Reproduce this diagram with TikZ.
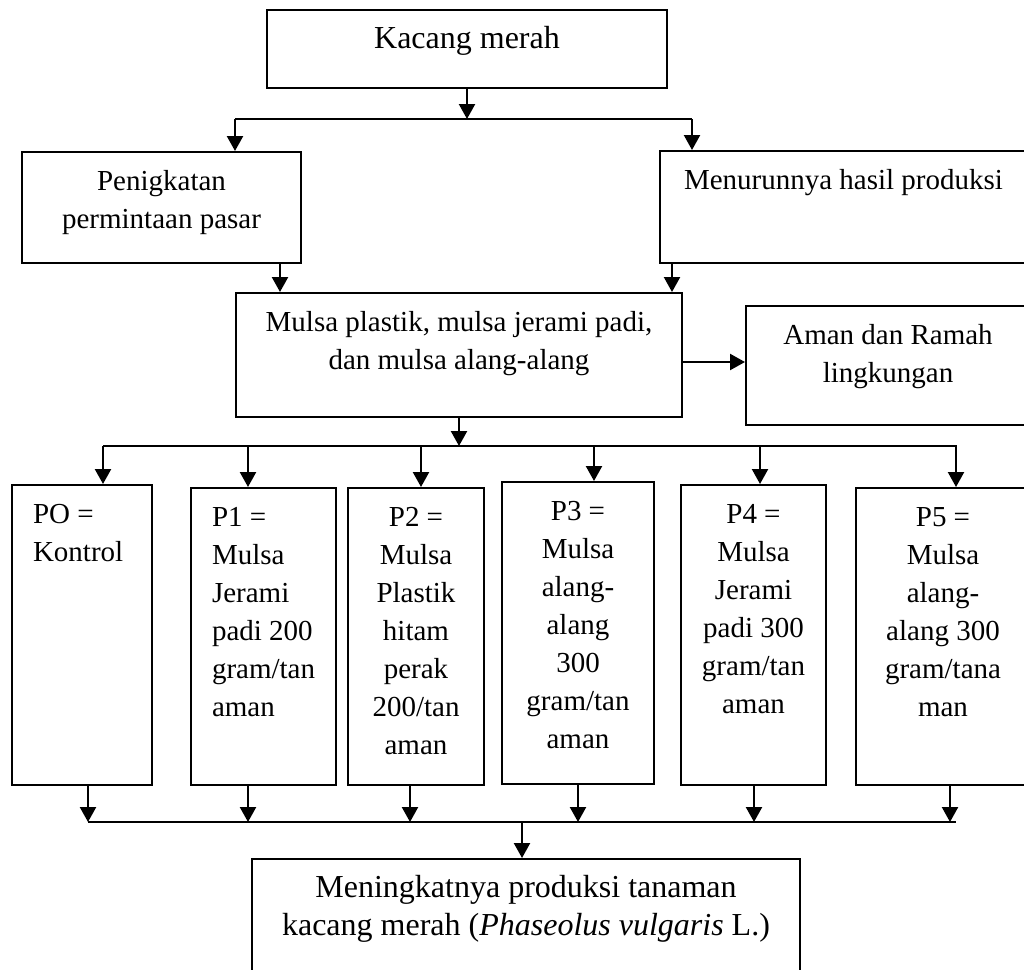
\documentclass[tikz,border=0pt]{standalone}
\usepackage{fontspec}
\setmainfont{Liberation Serif}
\usetikzlibrary{arrows.meta}
\newcommand{\cbox}[3]{\begin{minipage}[t][#2pt][t]{#1pt}\centering\rule{0pt}{38pt}#3\end{minipage}}
\newcommand{\lbox}[4]{\begin{minipage}[t][#2pt][t]{#1pt}\raggedright\leftskip=#3pt\rule{0pt}{38pt}#4\end{minipage}}
\tikzset{
  boxnode/.style={draw, line width=2pt, inner sep=0pt, anchor=north west, font=\fontsize{29}{38}\selectfont},
  bigtext/.style={font=\fontsize{32}{38}\selectfont},
  conn/.style={line width=2.3pt},
  arr/.style={line width=2.3pt, -{Triangle[width=16pt,length=15pt]}},
}
\begin{document}
\begin{tikzpicture}[x=1pt,y=-1pt]
\useasboundingbox (0,0) rectangle (1024,969);
\clip (0,0) rectangle (1024,969);
\fill[white] (0,0) rectangle (1024,969);
% boxes
\node[boxnode, bigtext] (top) at (266,9) {\cbox{400}{78}{Kacang merah}};
\node[boxnode] (pen) at (21,151) {\cbox{279}{111}{Penigkatan\\permintaan pasar}};
\node[boxnode] (men) at (659,150) {\lbox{375}{112}{24}{Menurunnya hasil produksi}};
\node[boxnode] (mul) at (235,292) {\cbox{446}{124}{Mulsa plastik, mulsa jerami padi,\\dan mulsa alang-alang}};
\node[boxnode] (aman) at (745,305) {\cbox{284}{119}{Aman dan Ramah\\lingkungan}};
\node[boxnode] (p0) at (11,484) {\lbox{140}{300}{21}{PO =\\Kontrol}};
\node[boxnode] (p1) at (190,487) {\lbox{145}{297}{21}{P1 =\\Mulsa\\Jerami\\padi 200\\gram/tan\\aman}};
\node[boxnode] (p2) at (347,487) {\cbox{136}{297}{P2 =\\Mulsa\\Plastik\\hitam\\perak\\200/tan\\aman}};
\node[boxnode] (p3) at (501,481) {\cbox{152}{302}{P3 =\\Mulsa\\alang-\\alang\\300\\gram/tan\\aman}};
\node[boxnode] (p4) at (680,484) {\cbox{145}{300}{P4 =\\Mulsa\\Jerami\\padi 300\\gram/tan\\aman}};
\node[boxnode] (p5) at (855,487) {\cbox{174}{297}{P5 =\\Mulsa\\alang-\\alang 300\\gram/tana\\man}};
\node[boxnode, bigtext] (fin) at (251,858) {\cbox{548}{140}{Meningkatnya produksi tanaman\\kacang merah (\textit{Phaseolus vulgaris} L.)}};
% junction coordinates
\coordinate (h1l) at (235,119);
\coordinate (h1r) at (692,119);
\coordinate (xa) at (280,0);
\coordinate (xb) at (672,0);
\coordinate (ya) at (0,362);
\coordinate (h2l) at (103,446);
\coordinate (h2r) at (957,446);
\coordinate (q1) at (248,0);
\coordinate (q2) at (421,0);
\coordinate (q3) at (594,0);
\coordinate (q4) at (760,0);
\coordinate (q5) at (956,0);
\coordinate (h3l) at (88,822);
\coordinate (h3r) at (956,822);
\coordinate (r1) at (248,0);
\coordinate (r2) at (410,0);
\coordinate (r3) at (578,0);
\coordinate (r4) at (754,0);
\coordinate (r5) at (950,0);
\coordinate (s0) at (522,0);
% level 1
\draw[arr] (top.south) -- (top.south |- h1l);
\draw[conn] (h1l) -- (h1r);
\draw[arr] (h1l) -- (h1l |- pen.north);
\draw[arr] (h1r) -- (h1r |- men.north);
% level 2
\draw[arr] (xa |- pen.south) -- (xa |- mul.north);
\draw[arr] (xb |- men.south) -- (xb |- mul.north);
\draw[arr] (mul.east |- ya) -- (aman.west |- ya);
% level 3
\draw[arr] (mul.south) -- (mul.south |- h2l);
\draw[conn] (h2l) -- (h2r);
\draw[arr] (h2l) -- (h2l |- p0.north);
\draw[arr] (q1 |- h2l) -- (q1 |- p1.north);
\draw[arr] (q2 |- h2l) -- (q2 |- p2.north);
\draw[arr] (q3 |- h2l) -- (q3 |- p3.north);
\draw[arr] (q4 |- h2l) -- (q4 |- p4.north);
\draw[arr] (q5 |- h2l) -- (q5 |- p5.north);
% level 4
\draw[arr] (h3l |- p0.south) -- (h3l);
\draw[arr] (r1 |- p1.south) -- (r1 |- h3l);
\draw[arr] (r2 |- p2.south) -- (r2 |- h3l);
\draw[arr] (r3 |- p3.south) -- (r3 |- h3l);
\draw[arr] (r4 |- p4.south) -- (r4 |- h3l);
\draw[arr] (r5 |- p5.south) -- (r5 |- h3l);
\draw[conn] (h3l) -- (h3r);
\draw[arr] (s0 |- h3l) -- (s0 |- fin.north);
\end{tikzpicture}
\end{document}
